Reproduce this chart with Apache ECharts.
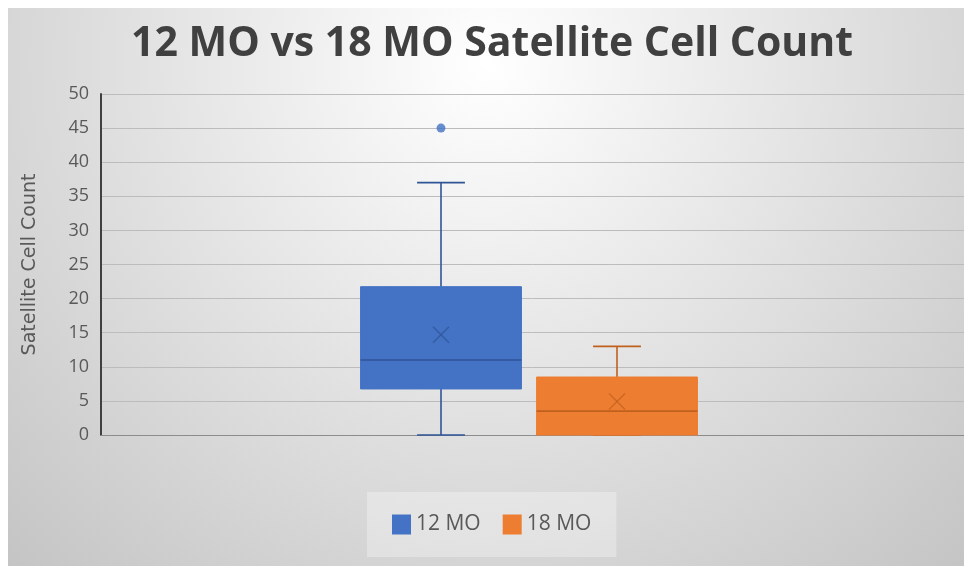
<!DOCTYPE html>
<html>
<head>
<meta charset="utf-8">
<script src="https://cdn.jsdelivr.net/npm/echarts@6/dist/echarts.min.js"></script>
<style>
  html, body { margin: 0; padding: 0; background: #ffffff; }
  #chart { position: absolute; left: 8px; top: 8px; width: 956px; height: 558px; }
</style>
</head>
<body>
<div id="chart"></div>
<script>
// Box-and-whisker statistics per age group
const groups = ['12 MO', '18 MO'];
const whiskerLow = [0, 0];
const quartile1 = [6.75, 0];
const medians = [11, 3.5];
const quartile3 = [21.75, 8.5];
const whiskerHigh = [37, 13];
const means = [14.7, 4.9];
const outliers = [[45], []];

// Value axis
const yMin = 0;
const yMax = 50;
const yStep = 5;

const fills = ['#4472C4', '#ED7D31'];
const strokes = ['#2F5597', '#C0601E'];

const chart = echarts.init(document.getElementById('chart'));

function makeRenderer(idx) {
  return function (params, api) {
    const c = api.value(0);
    const pt = (d) => api.coord([c, api.value(d)]);
    const lo = pt(1), q1 = pt(2), md = pt(3), q3 = pt(4), hi = pt(5), mn = pt(6);
    const band = api.size([1, 0])[0];
    const half = band * 0.457;
    const cap = band * 0.136;
    const cx = lo[0];
    const ls = { stroke: strokes[idx], lineWidth: 1.6 };
    const xs = 8;
    return {
      type: 'group',
      children: [
        { type: 'line', shape: { x1: cx, y1: hi[1], x2: cx, y2: q3[1] }, style: ls },
        { type: 'line', shape: { x1: cx, y1: q1[1], x2: cx, y2: lo[1] }, style: ls },
        { type: 'line', shape: { x1: cx - cap, y1: hi[1], x2: cx + cap, y2: hi[1] }, style: ls },
        { type: 'line', shape: { x1: cx - cap, y1: lo[1], x2: cx + cap, y2: lo[1] }, style: ls },
        {
          type: 'rect',
          shape: { x: cx - half, y: q3[1], width: half * 2, height: q1[1] - q3[1] },
          style: { fill: fills[idx], stroke: fills[idx], lineWidth: 1 }
        },
        { type: 'line', shape: { x1: cx - half, y1: md[1], x2: cx + half, y2: md[1] }, style: ls },
        { type: 'line', shape: { x1: cx - xs, y1: mn[1] - xs, x2: cx + xs, y2: mn[1] + xs },
          style: { stroke: strokes[idx], lineWidth: 1.5, opacity: 0.75 } },
        { type: 'line', shape: { x1: cx - xs, y1: mn[1] + xs, x2: cx + xs, y2: mn[1] - xs },
          style: { stroke: strokes[idx], lineWidth: 1.5, opacity: 0.75 } }
      ]
    };
  };
}

const boxSeries = groups.map((g, i) => ({
  name: g,
  type: 'custom',
  xAxisIndex: 1,
  yAxisIndex: 1,
  itemStyle: { color: fills[i] },
  encode: { x: 0, y: [1, 2, 3, 4, 5, 6] },
  data: [[g, whiskerLow[i], quartile1[i], medians[i], quartile3[i], whiskerHigh[i], means[i]]],
  renderItem: makeRenderer(i),
  z: 3
}));

const outlierSeries = groups.map((g, i) => ({
  name: g,
  type: 'scatter',
  xAxisIndex: 1,
  yAxisIndex: 1,
  symbol: 'circle',
  symbolSize: 9,
  itemStyle: { color: fills[i] },
  data: outliers[i].map(v => [g, v]),
  z: 4
}));

const font = 'Open Sans, "Noto Sans", sans-serif';

chart.setOption({
  backgroundColor: {
    type: 'radial', x: 0.5, y: 0.1, r: 1.25,
    colorStops: [{ offset: 0, color: '#ffffff' }, { offset: 1, color: '#c4c4c4' }]
  },
  animation: false,
  title: {
    text: '12 MO vs 18 MO Satellite Cell Count',
    left: 479,
    textAlign: 'center',
    top: 11,
    textStyle: { fontFamily: font, fontSize: 41, fontWeight: 'bold', color: '#404040' }
  },
  legend: {
    data: groups,
    left: 359,
    top: 484,
    padding: [22, 25],
    itemGap: 22,
    itemWidth: 19,
    itemHeight: 20,
    icon: 'rect',
    backgroundColor: 'rgba(255,255,255,0.3)',
    textStyle: { fontFamily: font, fontSize: 21, color: '#595959' }
  },
  grid: [
    { left: 93, right: 0, top: 86, bottom: 131 },
    { left: 345, width: 352, top: 86, bottom: 131 }
  ],
  xAxis: [
    {
      type: 'category', gridIndex: 0, data: [''],
      axisLine: { lineStyle: { color: '#8c8c8c', width: 1 } },
      axisTick: { show: false }, axisLabel: { show: false }
    },
    {
      type: 'category', gridIndex: 1, data: groups,
      axisLine: { show: false }, axisTick: { show: false }, axisLabel: { show: false }
    }
  ],
  yAxis: [
    {
      type: 'value', gridIndex: 0, min: yMin, max: yMax, interval: yStep,
      name: 'Satellite Cell Count',
      nameLocation: 'middle',
      nameGap: 61,
      nameTextStyle: { fontFamily: '"DejaVu Sans", sans-serif', fontSize: 19, color: '#595959' },
      axisLine: { show: true, lineStyle: { color: '#404040', width: 2 } },
      axisTick: { show: false },
      axisLabel: { fontFamily: font, fontSize: 18, color: '#595959', margin: 12 },
      splitLine: { lineStyle: { color: '#bcbcbc', width: 1 } }
    },
    {
      type: 'value', gridIndex: 1, min: yMin, max: yMax, interval: yStep,
      axisLine: { show: false }, axisTick: { show: false }, axisLabel: { show: false },
      splitLine: { show: false }
    }
  ],
  series: [...boxSeries, ...outlierSeries]
});
</script>
</body>
</html>
